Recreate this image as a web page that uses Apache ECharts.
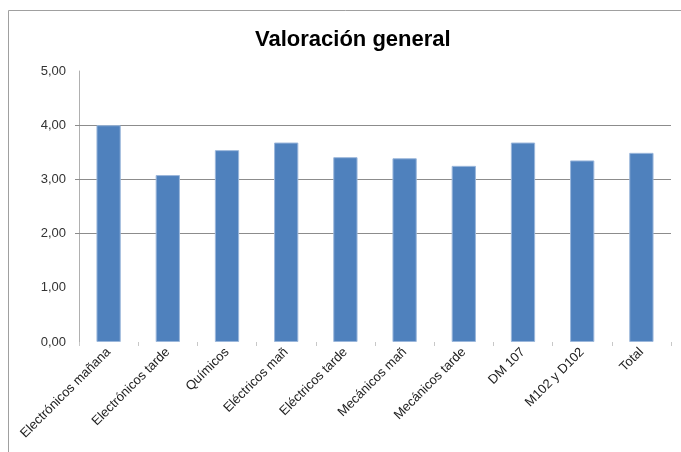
<!DOCTYPE html>
<html>
<head>
<meta charset="utf-8">
<script src="https://cdn.jsdelivr.net/npm/echarts@6/dist/echarts.min.js"></script>
<style>
html, body { margin: 0; padding: 0; background: #fff; }
#chart { width: 681px; height: 452px; }
</style>
</head>
<body>
<div id="chart"></div>
<script>
// datos
var categorias = ["Electrónicos mañana", "Electrónicos tarde", "Químicos", "Eléctricos mañ",
    "Eléctricos tarde", "Mecánicos mañ", "Mecánicos tarde", "DM 107", "M102 y D102", "Total"];
var valoracion = [4.00, 3.08, 3.54, 3.68, 3.41, 3.39, 3.25, 3.68, 3.35, 3.49];
var lineasY = [2, 3, 4];

var chart = echarts.init(document.getElementById("chart"));

var gris = "#8c8c8c";
var nada = "rgba(0,0,0,0)";

var lineas = [];
for (var i = 0; i < lineasY.length; ++ i) {
    lineas.push({ yAxis: lineasY[i] });
}

var option = {
    animation: false,
    backgroundColor: "#fff",
    title: {
        text: "Valoración general",
        left: 250,
        top: 24,
        textStyle: {
            fontFamily: "Liberation Sans",
            fontSize: 22,
            fontWeight: "bold",
            color: "#000"
        }
    },
    graphic: [{
        type: "rect",
        shape: { x: 8.5, y: 10.5, width: 700, height: 470 },
        style: { fill: nada, stroke: "#a0a0a0", lineWidth: 1 },
        silent: true
    }],
    grid: { left: 79, right: 10, top: 71, bottom: 110 },
    xAxis: {
        type: "category",
        data: categorias,
        axisLine: { show: false },
        axisTick: { show: true, length: 4, lineStyle: { color: "#c8c8c8" } },
        axisLabel: {
            rotate: 45,
            margin: 8,
            interval: 0,
            fontFamily: "Liberation Sans",
            fontSize: 13,
            color: "#222"
        }
    },
    yAxis: {
        type: "value",
        min: 0,
        max: 5,
        interval: 1,
        axisLine: { show: true, lineStyle: { color: "#b0b0b0" } },
        axisTick: {
            show: true,
            length: 4,
            customValues: lineasY,
            lineStyle: { color: gris }
        },
        axisLabel: {
            margin: 13,
            fontFamily: "Liberation Sans",
            fontSize: 13,
            color: "#333",
            formatter: function (v) { return v.toFixed(2).replace(".", ","); }
        },
        splitLine: { show: false }
    },
    series: [{
        type: "bar",
        data: valoracion,
        barWidth: "41%",
        itemStyle: {
            color: "#4f81bd",
            borderColor: "#9bb7db",
            borderWidth: 1
        },
        markLine: {
            silent: true,
            symbol: ["none", "none"],
            label: { show: false },
            lineStyle: { color: gris, type: "solid", width: 1 },
            z: 1,
            data: lineas
        }
    }]
};

chart.setOption(option);
</script>
</body>
</html>
